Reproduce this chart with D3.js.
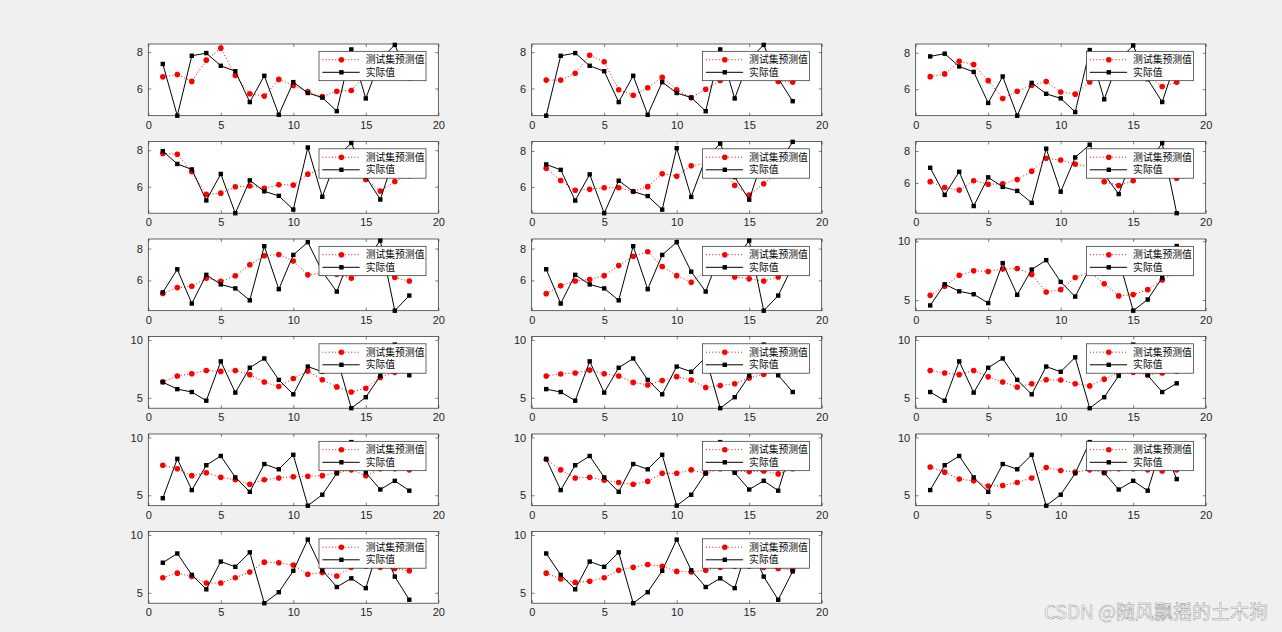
<!DOCTYPE html>
<html lang="zh">
<head>
<meta charset="UTF-8">
<script src="https://d3js.org/d3.v7.min.js"></script>
<title></title>
<style>
  body { margin: 0; background: #f0f0f0; }
  svg text { font-family: "Liberation Sans", Arial, sans-serif; }
</style>
</head>
<body>
<div id="chartContainer"></div>
<script>
// 实际值：第 k 个子图取第 k..k+17 个点（滑动窗口）
var actualAll = [7.35, 4.5, 7.8, 7.95, 7.25, 6.95, 5.25, 6.7, 4.55, 6.35,
                 5.75, 5.5, 4.75, 8.15, 5.45, 7.6, 8.4, 6.55, 5.3, 7.7,
                 7.25, 8.5, 4.1, 5.05, 6.9, 9.6, 6.95, 5.5, 6.25, 5.4,
                 9.45, 6.4, 4.4, 6.85];

// 每个子图的测试集预测值
var pred1  = [6.64, 6.77, 6.39, 7.56, 8.22, 6.72, 5.71, 5.58, 6.5, 6.17, 5.83, 5.55, 5.85, 5.89, 6.8, 7.1, 7.0, 6.8];
var pred2  = [6.46, 6.46, 6.84, 7.83, 7.47, 5.93, 5.63, 6.04, 6.62, 5.93, 5.49, 5.96, 6.44, 6.7, 6.9, 6.8, 6.39, 6.35];
var pred3  = [6.69, 6.84, 7.53, 7.35, 6.47, 5.49, 5.89, 6.22, 6.42, 5.85, 5.73, 6.4, 6.8, 6.9, 7.0, 6.7, 6.15, 6.38];
var pred4  = [7.82, 7.78, 6.82, 5.58, 5.65, 6.0, 6.04, 5.91, 6.11, 6.09, 6.69, 7.0, 7.2, 7.0, 6.4, 5.76, 6.29, 6.6];
var pred5  = [7.04, 6.36, 5.82, 5.87, 5.96, 5.96, 5.75, 6.02, 6.73, 6.6, 7.18, 7.3, 7.2, 6.09, 5.56, 6.18, 6.8, 7.0];
var pred6  = [6.08, 5.71, 5.55, 6.14, 5.92, 5.94, 6.21, 6.74, 7.55, 7.44, 7.18, 7.0, 6.08, 5.84, 6.14, 6.9, 7.0, 6.29];
var pred7  = [5.18, 5.55, 5.63, 6.14, 5.94, 6.29, 6.98, 7.55, 7.63, 7.22, 6.35, 6.45, 6.39, 6.14, 6.6, 6.8, 6.18, 5.96];
var pred8  = [5.17, 5.66, 5.96, 6.06, 6.3, 6.93, 7.52, 7.8, 6.87, 6.3, 5.88, 6.6, 6.5, 6.22, 6.1, 5.96, 6.22, 6.7];
var pred9  = [5.42, 6.19, 7.11, 7.5, 7.44, 7.64, 7.69, 7.19, 5.69, 5.89, 6.92, 7.4, 6.39, 5.36, 5.47, 5.89, 6.72, 7.4];
var pred10 = [6.39, 6.89, 7.08, 7.36, 7.28, 7.36, 7.0, 6.36, 5.97, 6.67, 7.31, 6.56, 5.94, 5.5, 5.83, 6.75, 7.2, 7.3];
var pred11 = [6.89, 7.06, 7.14, 7.39, 7.08, 6.89, 6.33, 6.11, 6.5, 6.83, 6.53, 5.89, 6.06, 6.22, 6.72, 7.03, 7.3, 7.4];
var pred12 = [7.36, 7.14, 7.0, 7.36, 6.81, 6.36, 5.92, 6.22, 6.56, 6.53, 6.22, 6.03, 6.61, 7.15, 7.2, 7.0, 7.14, 7.3];
var pred13 = [7.6, 7.3, 6.7, 6.95, 6.55, 6.35, 5.95, 6.35, 6.5, 6.6, 6.65, 6.7, 6.95, 7.2, 6.7, 7.3, 7.3, 7.2];
var pred14 = [8.1, 7.2, 6.5, 6.55, 6.3, 6.1, 5.95, 6.2, 6.9, 6.9, 7.2, 6.9, 7.3, 7.1, 7.05, 7.1, 6.85, 7.3];
var pred15 = [7.45, 7.0, 6.4, 6.25, 5.8, 5.85, 6.1, 6.5, 7.4, 7.15, 7.0, 7.2, 6.95, 7.3, 7.3, 7.2, 7.1, 7.2];
var pred16 = [6.3, 6.7, 6.4, 5.85, 5.85, 6.3, 6.8, 7.65, 7.6, 7.4, 6.6, 6.75, 6.45, 7.2, 7.3, 7.2, 7.1, 6.9];
var pred17 = [6.7, 6.2, 5.9, 6.0, 6.3, 6.95, 7.2, 7.45, 7.3, 6.85, 6.8, 6.95, 7.2, 7.3, 7.3, 7.2, 7.1, 7.0];
var predicted = [pred1, pred2, pred3, pred4, pred5, pred6, pred7, pred8, pred9,
                 pred10, pred11, pred12, pred13, pred14, pred15, pred16, pred17];

// y 轴范围
var yLimits = [[4.5, 8.45], [4.5, 8.45], [4.55, 8.48], [4.55, 8.48], [4.55, 8.52],
               [4.1, 8.6], [4.1, 8.6], [4.1, 8.6], [4.1, 10.2],
               [4.1, 10.3], [4.1, 10.3], [4.1, 10.3], [4.1, 10.3], [4.1, 10.3],
               [4.1, 10.3], [4.1, 10.3], [4.1, 10.3]];
var yTicksSmall = [6, 8];
var yTicksLarge = [5, 10];
var xTicks = [0, 5, 10, 15, 20];
var legendLabels = ["测试集预测值", "实际值"];

var W = 1282, H = 632;
var axisColor = "#262626";
var fmt = d3.format("d");

var svg = d3.select("#chartContainer").append("svg")
    .attr("width", W).attr("height", H);
svg.append("rect").attr("width", W).attr("height", H).attr("fill", "#f0f0f0");

// 子图位置
var colLeft = [148.3, 531.7, 915.7];
var axW = 290, axH = 71.7;
function rowTop(r) { return 44 + r * 97.5; }

predicted.forEach(function (pred, i) {
    var r = Math.floor(i / 3), c = i % 3;
    var g = svg.append("g")
        .attr("transform", "translate(" + colLeft[c] + "," + rowTop(r) + ")");

    var x = d3.scaleLinear().domain([0, 20]).range([0, axW]);
    var y = d3.scaleLinear().domain(yLimits[i]).range([axH, 0]);
    var yt = yLimits[i][1] > 9 ? yTicksLarge : yTicksSmall;
    var actual = actualAll.slice(i, i + 18);

    g.append("rect").attr("width", axW).attr("height", axH).attr("fill", "#fff");

    // 坐标轴
    g.append("g").attr("transform", "translate(0," + axH + ")")
        .call(d3.axisBottom(x).tickValues(xTicks).tickFormat(fmt)
            .tickSizeInner(-3).tickSizeOuter(0).tickPadding(5.5));
    g.append("g")
        .call(d3.axisLeft(y).tickValues(yt).tickFormat(fmt)
            .tickSizeInner(-3).tickSizeOuter(0).tickPadding(5.5));
    g.append("g").call(d3.axisTop(x).tickValues(xTicks).tickSizeInner(-3).tickSizeOuter(0).tickFormat(""));
    g.append("g").attr("transform", "translate(" + axW + ",0)")
        .call(d3.axisRight(y).tickValues(yt).tickSizeInner(-3).tickSizeOuter(0).tickFormat(""));
    g.selectAll(".domain").remove();
    g.selectAll(".tick line").attr("stroke", axisColor).attr("stroke-width", 0.6);
    g.selectAll(".tick text").attr("fill", axisColor).style("font-size", "11px");
    g.append("rect").attr("width", axW).attr("height", axH)
        .attr("fill", "none").attr("stroke", axisColor).attr("stroke-width", 0.7);

    // 预测值：红色点线 + 圆点
    var line = d3.line().x(function (d, k) { return x(k + 1); }).y(function (d) { return y(d); });
    g.append("path").datum(pred).attr("d", line)
        .attr("fill", "none").attr("stroke", "#ff0000").attr("stroke-width", 1)
        .attr("stroke-dasharray", "1,2.2");
    g.selectAll(".pt").data(pred).enter().append("circle")
        .attr("cx", function (d, k) { return x(k + 1); })
        .attr("cy", function (d) { return y(d); })
        .attr("r", 2.8).attr("fill", "#ff0000");

    // 实际值：黑色实线 + 方块
    g.append("path").datum(actual).attr("d", line)
        .attr("fill", "none").attr("stroke", "#000").attr("stroke-width", 1);
    g.selectAll(".sq").data(actual).enter().append("rect")
        .attr("x", function (d, k) { return x(k + 1) - 2.2; })
        .attr("y", function (d) { return y(d) - 2.2; })
        .attr("width", 4.4).attr("height", 4.4).attr("fill", "#000");

    // 图例
    var lw = 107, lh = 29.4;
    var lg = g.append("g").attr("transform", "translate(" + (axW - 12.3 - lw) + ",7.3)");
    lg.append("rect").attr("width", lw).attr("height", lh)
        .attr("fill", "#fff").attr("stroke", axisColor).attr("stroke-width", 0.7);
    legendLabels.forEach(function (lab, j) {
        var ly = j === 0 ? 8.4 : 21;
        lg.append("line").attr("x1", 3.4).attr("x2", 40.7).attr("y1", ly).attr("y2", ly)
            .attr("stroke", j === 0 ? "#ff0000" : "#000").attr("stroke-width", 1)
            .attr("stroke-dasharray", j === 0 ? "1,2.2" : null);
        if (j === 0) {
            lg.append("circle").attr("cx", 22.4).attr("cy", ly).attr("r", 2.8).attr("fill", "#ff0000");
        } else {
            lg.append("rect").attr("x", 20.2).attr("y", ly - 2.2).attr("width", 4.4).attr("height", 4.4).attr("fill", "#000");
        }
        lg.append("text").attr("x", 46.7).attr("y", ly).attr("dy", "0.36em")
            .style("font-family", "'Noto Sans CJK SC', sans-serif")
            .style("font-size", "9.8px").attr("fill", "#000").text(lab);
    });
});

// 水印
svg.append("text").attr("x", 1268).attr("y", 619).attr("text-anchor", "end")
    .style("font-family", "'Noto Sans CJK SC', sans-serif").style("font-size", "19px")
    .attr("fill", "#ffffff").attr("stroke", "#9a9a9a").attr("stroke-width", 0.5)
    .text("CSDN @随风飘摇的土木狗");
</script>
</body>
</html>
